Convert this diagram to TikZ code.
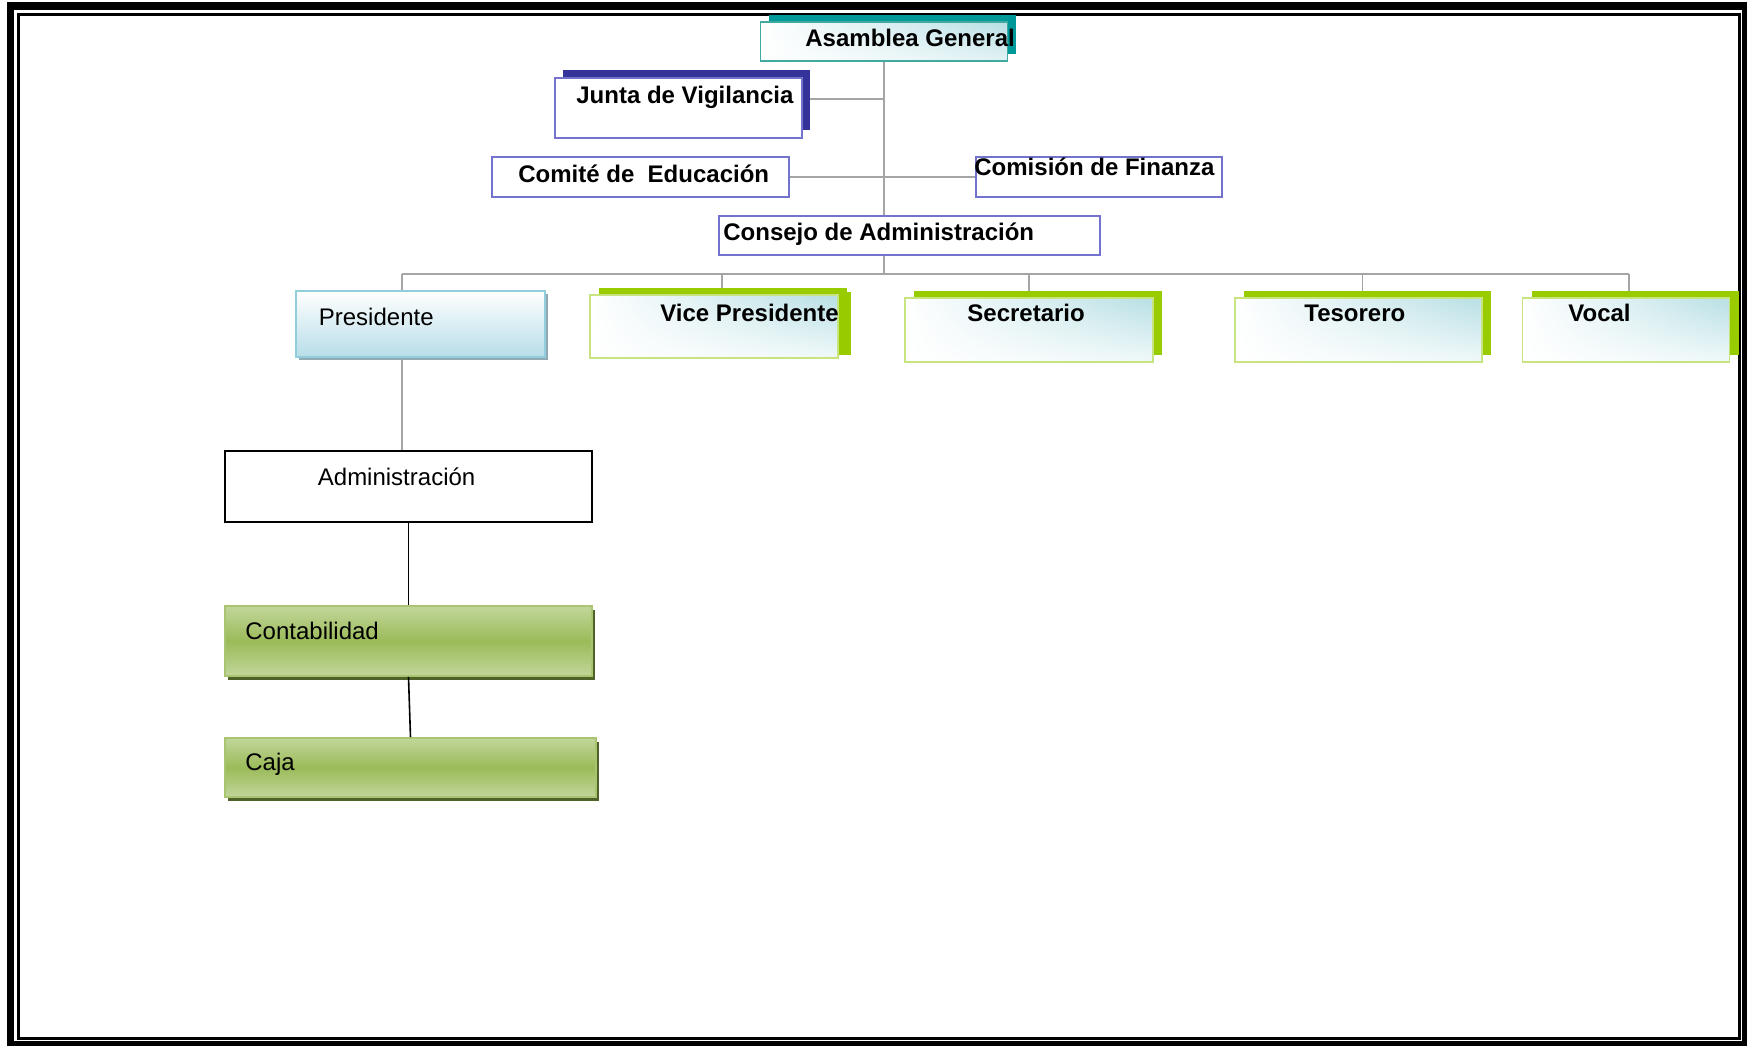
\documentclass[tikz,border=0pt]{standalone}
\usepackage{fontspec}
\setmainfont{Liberation Sans}
\usetikzlibrary{positioning,shadows,shadings,backgrounds}
\definecolor{tealbar}{RGB}{0,153,153}
\definecolor{tealline}{RGB}{64,170,160}
\definecolor{navybar}{RGB}{51,51,153}
\definecolor{violetline}{RGB}{115,115,205}
\definecolor{limebar}{RGB}{153,204,0}
\definecolor{limeline}{RGB}{200,228,128}
\definecolor{aquatint}{RGB}{183,223,228}
\definecolor{skyline}{RGB}{146,205,220}
\definecolor{skyfill}{RGB}{183,221,232}
\definecolor{skyshadow}{RGB}{143,170,180}
\definecolor{olive}{RGB}{155,187,89}
\definecolor{olivelight}{RGB}{194,214,155}
\definecolor{oliveshadow}{RGB}{79,98,40}
\definecolor{linkgray}{RGB}{165,165,165}

\begin{document}
\begin{tikzpicture}[
  x=0.5pt,y=-0.5pt,
  font=\fontsize{12}{14}\selectfont,
  lbl/.style={inner sep=0pt,anchor=base west},
  blbl/.style={lbl,font=\fontsize{12}{14}\selectfont\bfseries},
  board/.style={draw=violetline,line width=0.55pt,fill=white,inner sep=0pt},
  officer/.style={draw=limeline,line width=0.8pt,inner sep=0pt,
    upper left=white,lower left=white,upper right=aquatint,lower right=aquatint!20,
    drop shadow={shadow xshift=4.5pt,shadow yshift=3.5pt,fill=limebar,opacity=1}},
  unit/.style={draw=olive!85,line width=0.8pt,inner sep=0pt,
    top color=olivelight,bottom color=olivelight,middle color=olive,
    drop shadow={shadow xshift=1.5pt,shadow yshift=-2pt,fill=oliveshadow,opacity=1}},
  link/.style={draw=linkgray,line width=0.7pt},
  tie/.style={draw=black,line width=0.8pt}
]
\useasboundingbox (0,0) rectangle (1747,1045);
\begin{scope}
\clip (0,0) rectangle (1747,1045);
\draw[line width=3.75pt] (10.5,6) rectangle (1745.5,1044.5);
\draw[line width=1.5pt] (18.5,14) rectangle (1739,1038.5);
\end{scope}

\node[draw=tealline,line width=0.7pt,inner sep=0pt,minimum width=123.5pt,minimum height=19.5pt,
  upper left=white,lower left=white,upper right=aquatint,lower right=aquatint!40,
  drop shadow={shadow xshift=4pt,shadow yshift=3.5pt,fill=tealbar,opacity=1}] (asam) at (884,41.5) {};
\node[blbl] (asam-t) at (805,46) {Asamblea General};

\node[board,minimum width=123.5pt,minimum height=30pt,
  drop shadow={shadow xshift=4pt,shadow yshift=4pt,fill=navybar,opacity=1}] (junta) at (678.5,108) {};
\node[blbl] (junta-t) at (576,103) {Junta de Vigilancia};

\node[board,minimum width=148.5pt,minimum height=20pt] (comite) at (640.5,177) {};
\node[blbl] (comite-t) at (518,182) {Comité de\ \ Educación};

\node[board,minimum width=123pt,minimum height=20pt] (comision) at (1099,177) {};
\node[blbl] (comision-t) at (974,175.5) {Comisión de Finanza};

\node[board,minimum width=190.5pt,minimum height=19.5pt] (consejo) at (909.5,235.5) {};
\node[blbl] (consejo-t) at (723,240) {Consejo de Administración};

\node[draw=skyline,line width=1pt,inner sep=0pt,minimum width=124.5pt,minimum height=33pt,
  top color=white,bottom color=skyfill,
  drop shadow={shadow xshift=1.5pt,shadow yshift=-1.5pt,fill=skyshadow,opacity=1}] (pres) at (420.5,324) {};
\node[lbl] (pres-t) at (318.5,325) {Presidente};

\node[officer,minimum width=124pt,minimum height=31.5pt,
  drop shadow={shadow xshift=6.5pt,shadow yshift=1.75pt,fill=limebar,opacity=1}] (vice) at (714,326.5) {};
\node[blbl] (vice-t) at (660,321.5) {Vice Presidente};

\node[officer,minimum width=124pt,minimum height=32pt] (secr) at (1029,330) {};
\node[blbl] (secr-t) at (967,321.5) {Secretario};

\node[officer,minimum width=123.5pt,minimum height=32pt] (teso) at (1358.5,330) {};
\node[blbl] (teso-t) at (1304,321.5) {Tesorero};

\node[officer,minimum width=103.5pt,minimum height=32pt] (vocal) at (1626,330) {};
\node[blbl] (vocal-t) at (1568,321.5) {Vocal};

\node[draw,line width=0.7pt,fill=white,inner sep=0pt,minimum width=183.5pt,minimum height=35.5pt] (adm) at (408.5,486.5) {};
\node[lbl] (adm-t) at (317.5,485) {Administración};

\node[unit,minimum width=183.5pt,minimum height=35pt] (cont) at (408.5,641) {};
\node[lbl] (cont-t) at (245,639) {Contabilidad};

\node[unit,minimum width=185.5pt,minimum height=29.5pt] (caja) at (410.5,767.5) {};
\node[lbl] (caja-t) at (245,770.5) {Caja};

\coordinate (busL) at (402,274);
\coordinate (busR) at (1629,274);

\begin{scope}[on background layer]
\draw[link] (asam.south) -- (busL -| asam.south);
\draw[link] ([yshift=4.5pt]junta.east) -- ([yshift=4.5pt]junta.east -| asam.south);
\draw[link] (comite.east) -- (comision.west);
\draw[link] (busL) -- (busR);
\draw[link] (busL) -- (busL |- adm.north);
\draw[link] ([xshift=4pt]vice.north |- busL) -- ([xshift=4pt]vice.north);
\draw[link] (secr.north |- busL) -- (secr.north);
\draw[link] ([xshift=2pt]teso.north |- busL) -- ([xshift=2pt]teso.north);
\draw[link] (busR) -- (busR |- vocal.north);
\end{scope}
\draw[tie] (adm.south) -- (cont.north);
\draw[tie] (cont.south) -- (caja.north);
\end{tikzpicture}
\end{document}
